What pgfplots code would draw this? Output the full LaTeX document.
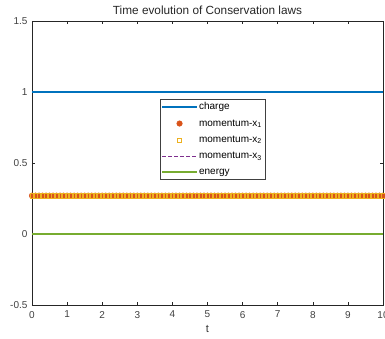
\documentclass[border=0pt]{standalone}
\usepackage{fontspec}
\setmainfont{Liberation Sans}
\usepackage{pgfplots}
\usepackage{pgfplotstable}
\pgfplotsset{compat=1.18}
\definecolor{mblue}{rgb}{0,0.447,0.741}
\definecolor{morange}{rgb}{0.85,0.325,0.098}
\definecolor{myellow}{rgb}{0.929,0.694,0.125}
\definecolor{mpurple}{rgb}{0.494,0.184,0.556}
\definecolor{mgreen}{rgb}{0.466,0.674,0.188}
\definecolor{axgray}{rgb}{0.15,0.15,0.15}
\pgfplotstableread[row sep=\\]{
t y\\
0 0.27\\ 0.1 0.27\\ 0.2 0.27\\ 0.3 0.27\\ 0.4 0.27\\ 0.5 0.27\\ 0.6 0.27\\ 0.7 0.27\\ 0.8 0.27\\ 0.9 0.27\\
1 0.27\\ 1.1 0.27\\ 1.2 0.27\\ 1.3 0.27\\ 1.4 0.27\\ 1.5 0.27\\ 1.6 0.27\\ 1.7 0.27\\ 1.8 0.27\\ 1.9 0.27\\
2 0.27\\ 2.1 0.27\\ 2.2 0.27\\ 2.3 0.27\\ 2.4 0.27\\ 2.5 0.27\\ 2.6 0.27\\ 2.7 0.27\\ 2.8 0.27\\ 2.9 0.27\\
3 0.27\\ 3.1 0.27\\ 3.2 0.27\\ 3.3 0.27\\ 3.4 0.27\\ 3.5 0.27\\ 3.6 0.27\\ 3.7 0.27\\ 3.8 0.27\\ 3.9 0.27\\
4 0.27\\ 4.1 0.27\\ 4.2 0.27\\ 4.3 0.27\\ 4.4 0.27\\ 4.5 0.27\\ 4.6 0.27\\ 4.7 0.27\\ 4.8 0.27\\ 4.9 0.27\\
5 0.27\\ 5.1 0.27\\ 5.2 0.27\\ 5.3 0.27\\ 5.4 0.27\\ 5.5 0.27\\ 5.6 0.27\\ 5.7 0.27\\ 5.8 0.27\\ 5.9 0.27\\
6 0.27\\ 6.1 0.27\\ 6.2 0.27\\ 6.3 0.27\\ 6.4 0.27\\ 6.5 0.27\\ 6.6 0.27\\ 6.7 0.27\\ 6.8 0.27\\ 6.9 0.27\\
7 0.27\\ 7.1 0.27\\ 7.2 0.27\\ 7.3 0.27\\ 7.4 0.27\\ 7.5 0.27\\ 7.6 0.27\\ 7.7 0.27\\ 7.8 0.27\\ 7.9 0.27\\
8 0.27\\ 8.1 0.27\\ 8.2 0.27\\ 8.3 0.27\\ 8.4 0.27\\ 8.5 0.27\\ 8.6 0.27\\ 8.7 0.27\\ 8.8 0.27\\ 8.9 0.27\\
9 0.27\\ 9.1 0.27\\ 9.2 0.27\\ 9.3 0.27\\ 9.4 0.27\\ 9.5 0.27\\ 9.6 0.27\\ 9.7 0.27\\ 9.8 0.27\\ 9.9 0.27\\
10 0.27\\
}\mom
\begin{document}
\begin{tikzpicture}
\useasboundingbox (-32pt,-34pt) rectangle (353pt,305pt);
\begin{axis}[
  at={(0,0)}, anchor=south west,
  scale only axis, width=351pt, height=284pt,
  xmin=0, xmax=10, ymin=-0.5, ymax=1.5,
  xtick={0,1,2,3,4,5,6,7,8,9,10},
  xticklabels={0,1,2,3,4,5,6,7,8,9,10},
  ytick={-0.5,0,0.5,1,1.5},
  yticklabels={-0.5,0,0.5,1,1.5},
  tick align=inside,
  major tick length=3pt,
  axis line style={axgray, line width=0.6pt},
  every tick/.style={axgray, line width=0.5pt},
  tick label style={font=\fontsize{10}{12}\selectfont, text=black!75},
  xticklabel style={yshift=-2.5pt},
  yticklabel style={xshift=-1pt},
  title={Time evolution of Conservation laws},
  title style={font=\fontsize{11.8}{14}\selectfont, text=black!85, yshift=-3pt},
  xlabel={t},
  xlabel style={font=\fontsize{11}{13}\selectfont, text=black!80, yshift=-0.5pt},
  legend cell align=left,
  legend image code/.code={\draw[mark repeat=2,mark phase=2,#1] plot coordinates {(0cm,0cm) (0.6cm,0cm) (1.2cm,0cm)};},
  legend style={at={(0.364,0.725)}, anchor=north west, draw=black!75,
    font=\fontsize{10}{12}\selectfont, row sep=5.5pt, inner sep=1.5pt,
    nodes={inner sep=1.5pt}},
]
\addplot[mblue, line width=1.6pt, legend image post style={line width=2pt}] coordinates {(0,1) (10,1)};
\addlegendentry{charge}
\addplot[only marks, mark=*, mark size=2.8pt, draw=morange, fill=morange] table[x=t,y=y] {\mom};
\addlegendentry{momentum-x\textsubscript{1}}
\addplot[only marks, mark=square, mark size=2.2pt, draw=myellow, line width=0.5pt] table[x=t,y=y] {\mom};
\addlegendentry{momentum-x\textsubscript{2}}
\addplot[mpurple, line width=1.2pt, dash pattern=on 4pt off 2pt, legend image post style={line width=1.6pt}] table[x=t,y=y] {\mom};
\addlegendentry{momentum-x\textsubscript{3}}
\addplot[mgreen, line width=1.6pt, legend image post style={line width=2pt}] coordinates {(0,0) (10,0)};
\addlegendentry{energy}
\end{axis}
\end{tikzpicture}
\end{document}
